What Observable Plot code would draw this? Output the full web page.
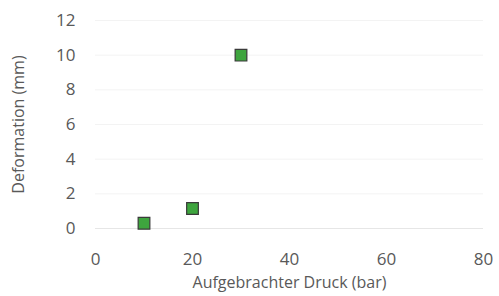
<!DOCTYPE html>
<html>
<head>
<meta charset="utf-8">
<script src="https://cdn.jsdelivr.net/npm/d3@7"></script>
<script src="https://cdn.jsdelivr.net/npm/@observablehq/plot@0.6"></script>
<style>
  html, body { margin: 0; padding: 0; background: #fff; }
  svg { display: block; }
</style>
</head>
<body>
<div id="chart"></div>
<script>
const pressure = [10, 20, 30];
const deformation = [0.3, 1.15, 10];
const xTicks = [0, 20, 40, 60, 80];
const yTicks = [0, 2, 4, 6, 8, 10, 12];
const xLabel = "Aufgebrachter Druck (bar)";
const yLabel = "Deformation (mm)";

const data = pressure.map((p, i) => ({pressure: p, deformation: deformation[i]}));

const chart = Plot.plot({
  width: 499,
  height: 296,
  marginLeft: 95,
  marginRight: 16,
  marginTop: 20,
  marginBottom: 68,
  style: {fontFamily: "'Open Sans', sans-serif", fontSize: "17px", color: "#595959", background: "#fff"},
  x: {domain: [0, 80], ticks: xTicks, label: null},
  y: {domain: [0, 12], ticks: yTicks, label: null},
  marks: [
    Plot.gridY(yTicks.filter(d => d > 0), {stroke: "#f3f3f3", strokeOpacity: 1}),
    Plot.ruleY([0], {stroke: "#e6e6e6"}),
    Plot.axisX({ticks: xTicks, tickSize: 0, tickPadding: 24, fill: "#595959", fontSize: 17, label: null}),
    Plot.axisY({ticks: yTicks, tickSize: 0, tickPadding: 20, fill: "#595959", fontSize: 17, label: null}),
    Plot.dot(data, {x: "pressure", y: "deformation", symbol: "square", r: 6.6, fill: "#3ea53e", stroke: "#3a3a3a", strokeWidth: 1.2}),
    Plot.text([xLabel], {frameAnchor: "bottom", textAnchor: "middle", dy: 59, text: d => d, fill: "#595959", fontSize: 16}),
    Plot.text([yLabel], {frameAnchor: "left", textAnchor: "middle", dx: -77, rotate: -90, text: d => d, fill: "#595959", fontSize: 16})
  ]
});
document.getElementById("chart").appendChild(chart);
</script>
</body>
</html>
